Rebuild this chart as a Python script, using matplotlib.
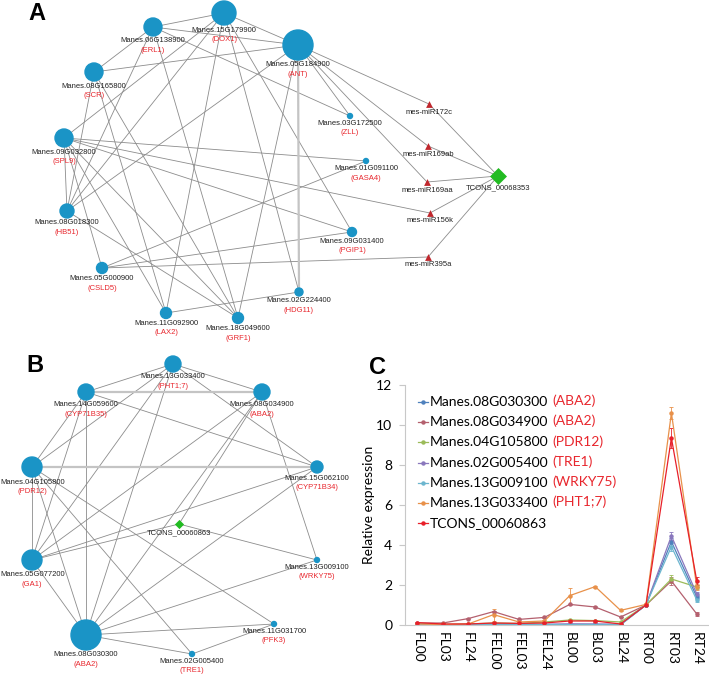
import matplotlib
matplotlib.use("Agg")
import matplotlib.pyplot as plt
from matplotlib.patches import Circle
from matplotlib.collections import LineCollection

# ---------------- panel A network ----------------
a_ids = ["DOX1", "ERL1", "ANT", "SCR", "SPL9", "ZLL", "GASA4", "PGIP1", "HDG11",
         "HB51", "CSLD5", "LAX2", "GRF1"]
a_gene = ["Manes.15G179900", "Manes.06G138900", "Manes.05G184900", "Manes.08G165800",
          "Manes.09G032800", "Manes.03G172500", "Manes.01G091100", "Manes.09G031400",
          "Manes.02G224400", "Manes.08G018300", "Manes.05G000900", "Manes.11G092900",
          "Manes.18G049600"]
a_x = [224, 153, 298, 94, 64, 350, 366, 352, 299, 67, 102, 166, 238]
a_y = [13, 27, 45, 72, 138, 116, 161, 232, 292, 211, 268, 313, 318]
a_r = [12, 9, 15, 9, 9, 2.5, 2.5, 4.5, 4, 7, 5.5, 5.5, 5.5]

a_mir = ["mes-miR172c", "mes-miR169ab", "mes-miR169aa", "mes-miR156k", "mes-miR395a"]
a_mir_x = [429, 428, 427, 430, 428]
a_mir_y = [104, 146, 182, 213, 257]
a_lnc = ("TCONS_00068353", 498, 176)

a_edges = [("DOX1", "ERL1"), ("DOX1", "ANT"), ("ERL1", "ANT"), ("SCR", "ANT"),
           ("ERL1", "SCR"), ("ERL1", "ZLL"), ("ANT", "ZLL"), ("ANT", "mes-miR172c"),
           ("ANT", "mes-miR169ab"), ("ANT", "mes-miR169aa"),
           ("DOX1", "HDG11"), ("DOX1", "PGIP1"), ("DOX1", "LAX2"), ("DOX1", "SPL9"),
           ("SCR", "HB51"), ("SCR", "LAX2"), ("SCR", "GRF1"), ("ERL1", "GRF1"),
           ("SPL9", "CSLD5"), ("SPL9", "GASA4"), ("SPL9", "mes-miR156k"), ("SPL9", "PGIP1"),
           ("SPL9", "HB51"), ("SPL9", "LAX2"), ("CSLD5", "GASA4"), ("CSLD5", "PGIP1"),
           ("CSLD5", "mes-miR395a"), ("HB51", "DOX1"), ("HB51", "ANT"), ("HB51", "ERL1"),
           ("HB51", "GRF1"), ("LAX2", "HDG11"), ("ANT", "GRF1"), ("SPL9", "GRF1"),
           ("mes-miR172c", "TCONS_00068353"), ("mes-miR169ab", "TCONS_00068353"),
           ("mes-miR169aa", "TCONS_00068353"), ("mes-miR156k", "TCONS_00068353"),
           ("mes-miR395a", "TCONS_00068353")]
a_thick = [("ANT", "HDG11")]

# ---------------- panel B network ----------------
b_ids = ["PHT1;7", "CYP71B35", "PDR12", "GA1", "ABA2a", "TRE1", "ABA2b", "CYP71B34",
         "WRKY75", "PFK3"]
b_sym = ["PHT1;7", "CYP71B35", "PDR12", "GA1", "ABA2", "TRE1", "ABA2", "CYP71B34",
         "WRKY75", "PFK3"]
b_gene = ["Manes.13G033400", "Manes.14G059600", "Manes.04G105800", "Manes.05G077200",
          "Manes.08G030300", "Manes.02G005400", "Manes.08G034900", "Manes.15G062100",
          "Manes.13G009100", "Manes.11G031700"]
b_x = [173, 86, 32, 32, 86, 192, 262, 317, 317, 274]
b_y = [364, 392, 467, 560, 635, 654, 392, 467, 560, 624]
b_r = [8, 8, 10, 10, 15, 2.5, 8, 6, 2.5, 2.5]
b_lnc = ("TCONS_00060863", 179, 524)

b_edges = [("PHT1;7", "CYP71B35"), ("PHT1;7", "ABA2b"), ("PHT1;7", "CYP71B34"),
           ("PHT1;7", "PDR12"), ("PHT1;7", "GA1"), ("PHT1;7", "ABA2a"),
           ("CYP71B35", "CYP71B34"), ("CYP71B35", "PDR12"), ("CYP71B35", "GA1"),
           ("CYP71B35", "ABA2a"), ("PDR12", "GA1"), ("PDR12", "ABA2a"), ("PDR12", "PFK3"),
           ("PDR12", "TRE1"), ("GA1", "ABA2b"), ("GA1", "ABA2a"), ("GA1", "CYP71B34"),
           ("GA1", "TCONS_00060863"), ("ABA2b", "TCONS_00060863"), ("ABA2b", "ABA2a"),
           ("ABA2b", "WRKY75"), ("TCONS_00060863", "WRKY75"), ("ABA2a", "CYP71B34"),
           ("ABA2a", "WRKY75"), ("ABA2a", "PFK3"), ("ABA2a", "TRE1"), ("TRE1", "PFK3")]
b_thick = [("CYP71B35", "ABA2b"), ("PDR12", "CYP71B34")]

# ---------------- panel C data ----------------
stages = ["FL00", "FL03", "FL24", "FEL00", "FEL03", "FEL24", "BL00", "BL03", "BL24",
          "RT00", "RT03", "RT24"]
aba2_a = [0.02, 0.02, 0.02, 0.03, 0.02, 0.02, 0.02, 0.03, 0.02, 1.0, 4.17, 1.4]
aba2_b = [0.1, 0.1, 0.32, 0.67, 0.28, 0.38, 1.03, 0.9, 0.4, 1.0, 2.2, 0.55]
pdr12 = [0.05, 0.03, 0.05, 0.1, 0.08, 0.15, 0.25, 0.22, 0.15, 1.0, 2.3, 1.9]
tre1 = [0.03, 0.02, 0.02, 0.05, 0.03, 0.04, 0.06, 0.05, 0.04, 1.0, 4.45, 1.55]
wrky75 = [0.02, 0.01, 0.01, 0.02, 0.01, 0.02, 0.02, 0.02, 0.01, 1.0, 3.92, 1.25]
pht17 = [0.05, 0.02, 0.05, 0.52, 0.15, 0.2, 1.47, 1.92, 0.73, 1.03, 10.6, 1.9]
tcons = [0.12, 0.05, 0.05, 0.1, 0.08, 0.1, 0.2, 0.2, 0.05, 1.0, 9.35, 2.2]
err_small = [0.02, 0.01, 0.02, 0.03, 0.02, 0.02, 0.03, 0.03, 0.02, 0.05, 0.2, 0.1]
err_pht17 = [0.03, 0.01, 0.03, 0.3, 0.05, 0.05, 0.4, 0.05, 0.05, 0.05, 0.3, 0.15]
err_tcons = [0.03, 0.01, 0.02, 0.03, 0.02, 0.02, 0.03, 0.03, 0.02, 0.05, 0.5, 0.2]

series = [("Manes.08G030300", "(ABA2)", aba2_a, err_small, "#4f81bd"),
          ("Manes.08G034900", "(ABA2)", aba2_b, err_small, "#b4606e"),
          ("Manes.04G105800", "(PDR12)", pdr12, err_small, "#9bbb59"),
          ("Manes.02G005400", "(TRE1)", tre1, err_small, "#8a78bd"),
          ("Manes.13G009100", "(WRKY75)", wrky75, err_small, "#6cb6cf"),
          ("Manes.13G033400", "(PHT1;7)", pht17, err_pht17, "#e8914a"),
          ("TCONS_00060863", "", tcons, err_tcons, "#e8202a")]

NODE = "#1a94c6"
EDGE = "#8c8c8c"
RED = "#e8262d"
NET_FONT = "Liberation Sans"
NET_FS = 5.5
C_FONT = "Lato"

fig = plt.figure(figsize=(7.09, 6.76), dpi=100)
net = fig.add_axes([0, 0, 1, 1])
net.set_xlim(0, 709)
net.set_ylim(676, 0)
net.axis("off")


def draw_net(ids, xs, ys, rs, genes, syms, mir, mir_x, mir_y, lnc, edges, thick):
    pos = {i: (x, y) for i, x, y in zip(ids, xs, ys)}
    for m, x, y in zip(mir, mir_x, mir_y):
        pos[m] = (x, y)
    pos[lnc[0]] = (lnc[1], lnc[2])
    segs = [[pos[a], pos[b]] for a, b in edges]
    net.add_collection(LineCollection(segs, colors=EDGE, linewidths=0.6, zorder=1))
    tsegs = [[pos[a], pos[b]] for a, b in thick]
    net.add_collection(LineCollection(tsegs, colors="#c4c4c4", linewidths=1.6, zorder=1))
    for x, y, r, g, s in zip(xs, ys, rs, genes, syms):
        net.add_patch(Circle((x, y), r, color=NODE, zorder=3))
        net.text(max(x, 33), y + r + 5, g, fontsize=NET_FS, ha="center", va="center",
                 family=NET_FONT, color="#222222", zorder=4)
        net.text(x, y + r + 14.5, "(" + s + ")", fontsize=NET_FS, ha="center", va="center",
                 family=NET_FONT, color=RED, zorder=4)
    if mir:
        net.scatter(mir_x, mir_y, marker="^", s=24, color="#c0272d", zorder=3, linewidths=0)
        for m, x, y in zip(mir, mir_x, mir_y):
            net.text(x, y + 8, m, fontsize=NET_FS, ha="center", va="center",
                     family=NET_FONT, color="#222222", zorder=4)


draw_net(a_ids, a_x, a_y, a_r, a_gene, a_ids, a_mir, a_mir_x, a_mir_y, a_lnc,
         a_edges, a_thick)
net.scatter([a_lnc[1]], [a_lnc[2]], marker="D", s=75, color="#22bb22", zorder=3, linewidths=0)
net.text(a_lnc[1], a_lnc[2] + 12, a_lnc[0], fontsize=NET_FS, ha="center", va="center",
         family=NET_FONT, color="#222222")

draw_net(b_ids, b_x, b_y, b_r, b_gene, b_sym, [], [], [], b_lnc, b_edges, b_thick)
net.scatter([b_lnc[1]], [b_lnc[2]], marker="D", s=22, color="#22bb22", zorder=3, linewidths=0)
net.text(b_lnc[1], b_lnc[2] + 9, b_lnc[0], fontsize=NET_FS, ha="center", va="center",
         family=NET_FONT, color="#222222")

for lab, x, y in [("A", 37, 14), ("B", 35, 365), ("C", 377, 367)]:
    net.text(x, y, lab, fontsize=17, fontweight="bold", ha="center", va="center",
             family=NET_FONT)

# ---------------- panel C chart ----------------
axc = fig.add_axes([404.7 / 709, (676 - 625) / 676, (709.5 - 404.7) / 709, 240 / 676])
axc.patch.set_alpha(0)
xs = list(range(len(stages)))
for name, sym, vals, err, col in series:
    axc.errorbar(xs, vals, yerr=err, color=col, lw=0.9, marker="o", ms=2.2,
                 elinewidth=0.6, capsize=1.2, capthick=0.6, ecolor=col)
axc.set_xlim(-0.5, len(stages) - 0.5)
axc.set_ylim(0, 12)
axc.set_yticks(range(0, 13, 2))
axc.set_xticks(xs)
axc.set_xticklabels(stages, rotation=-90, family=C_FONT, fontsize=10)
for t in axc.get_yticklabels():
    t.set_family(C_FONT)
    t.set_fontsize(10)
axc.tick_params(axis="x", length=0, pad=5)
axc.tick_params(axis="y", length=4, pad=5, color="#c8c8c8")
for s in ["top", "right"]:
    axc.spines[s].set_visible(False)
for s in ["left", "bottom"]:
    axc.spines[s].set_color("#c8c8c8")
    axc.spines[s].set_linewidth(0.8)
axc.set_ylabel("Relative expression", family=C_FONT, fontsize=10, labelpad=1)

# legend drawn by hand
fig.canvas.draw()
rend = fig.canvas.get_renderer()
leg_x, leg_y0, leg_dy = 418, 402, 20.2
for k, (name, sym, vals, err, col) in enumerate(series):
    y = leg_y0 + k * leg_dy
    net.plot([leg_x, leg_x + 10], [y, y], color=col, lw=0.9)
    net.plot([leg_x + 5], [y], color=col, marker="o", ms=2.2)
    t = net.text(leg_x + 12, y, name, fontsize=10, family=C_FONT, va="center", ha="left")
    if sym:
        bb = t.get_window_extent(rend)
        xr = net.transData.inverted().transform((bb.x1, bb.y0))[0]
        net.text(xr + 4, y - 1, sym, fontsize=10, family=C_FONT, va="center", ha="left",
                 color=RED)

fig.savefig("out.png", dpi=100)
